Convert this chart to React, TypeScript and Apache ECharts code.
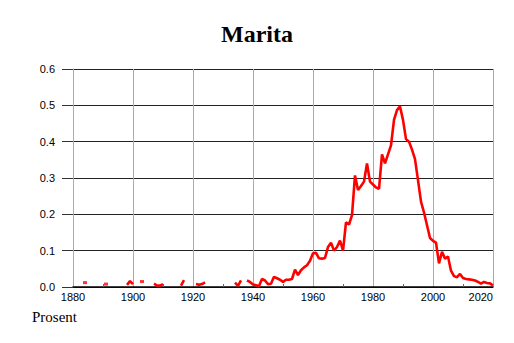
import React, { useEffect, useRef } from "react";
import * as echarts from "echarts";

const startYear = 1880;
const values: (number | null)[] = [
  // 1880-1889
  null, null, null, null, 0.012, null, null, null, null, null,
  // 1890-1899
  null, 0.008, null, null, null, null, null, null, 0.006, 0.016,
  // 1900-1909
  0.008, null, null, 0.015, null, null, null, 0.009, 0.004, 0.004,
  // 1910-1919
  0.008, null, null, null, null, null, 0.004, 0.019, null, null,
  // 1920-1929
  null, 0.008, 0.006, 0.008, 0.013, null, null, null, null, null,
  // 1930-1939
  null, null, null, null, 0.012, 0.003, 0.018, null, 0.018, 0.014,
  // 1940-1949
  0.007, 0.005, 0.003, 0.022, 0.018, 0.008, 0.009, 0.028, 0.024, 0.02,
  // 1950-1959
  0.014, 0.02, 0.02, 0.022, 0.048, 0.033, 0.046, 0.054, 0.06, 0.072,
  // 1960-1969
  0.093, 0.094, 0.079, 0.078, 0.08, 0.11, 0.122, 0.1, 0.11, 0.128,
  // 1970-1979
  0.1, 0.178, 0.172, 0.198, 0.307, 0.267, 0.278, 0.29, 0.34, 0.29,
  // 1980-1989
  0.282, 0.274, 0.27, 0.365, 0.34, 0.365, 0.39, 0.46, 0.487, 0.497,
  // 1990-1999
  0.46, 0.407, 0.4, 0.378, 0.352, 0.294, 0.235, 0.205, 0.17, 0.135,
  // 2000-2009
  0.127, 0.122, 0.065, 0.097, 0.078, 0.084, 0.045, 0.03, 0.027, 0.036,
  // 2010-2019
  0.025, 0.022, 0.021, 0.02, 0.018, 0.014, 0.009, 0.014, 0.011, 0.01,
  // 2020
  0.004,
];
const years: number[] = values.map((_, i) => startYear + i);

const xMin = 1880;
const xMax = 2020;
const xStep = 20;
const yMin = 0;
const yMax = 0.6;
const yStep = 0.1;

const titleText = "Marita";
const yUnitLabel = "Prosent";

export default function App() {
  const ref = useRef<HTMLDivElement>(null);

  useEffect(() => {
    if (!ref.current) return;
    const chart = echarts.init(ref.current, undefined, { renderer: "svg" });

    const lineData = years.map((y, i) => [y, values[i] == null ? "-" : values[i]]);
    const isolated = years
      .map((y, i) => ({ y, v: values[i], i }))
      .filter(
        (p) =>
          p.v != null &&
          (p.i === 0 || values[p.i - 1] == null) &&
          (p.i === values.length - 1 || values[p.i + 1] == null)
      )
      .map((p) => [p.y, p.v]);

    chart.setOption({
      animation: false,
      backgroundColor: "#ffffff",
      title: {
        text: titleText,
        left: "center",
        top: 17,
        textStyle: {
          fontFamily: "Liberation Serif",
          fontWeight: "bold",
          fontSize: 24,
          color: "#000",
        },
      },
      grid: { left: 73, right: 21, top: 69, bottom: 56 },
      xAxis: {
        type: "value",
        min: xMin,
        max: xMax,
        interval: xStep,
        axisLine: { show: true, lineStyle: { color: "#000", width: 1.5 } },
        axisTick: { show: false, inside: true },
        minorTick: {
          show: true,
          splitNumber: 2,
          length: 3,
          lineStyle: { color: "#666", width: 1 },
        },
        axisLabel: {
          color: "#000",
          fontFamily: "Liberation Sans",
          fontSize: 11,
          margin: 4,
          alignMaxLabel: "right",
          formatter: (v: number) => String(v),
        },
        splitLine: { show: true, lineStyle: { color: "#aaaaaa", width: 1 } },
      },
      yAxis: {
        type: "value",
        min: yMin,
        max: yMax,
        interval: yStep,
        axisLine: { show: true, lineStyle: { color: "#aaaaaa", width: 1 } },
        axisTick: {
          show: true,
          length: 11,
          lineStyle: { color: "#333", width: 1 },
        },
        axisLabel: {
          color: "#000",
          fontFamily: "Liberation Sans",
          fontSize: 11,
          margin: 18,
          formatter: (v: number) => v.toFixed(1),
        },
        splitLine: { show: true, lineStyle: { color: "#222", width: 1 } },
      },
      graphic: [
        {
          type: "text",
          left: 32,
          top: 309,
          style: {
            text: yUnitLabel,
            fontFamily: "Liberation Serif",
            fontSize: 15,
            fill: "#000",
          },
        },
      ],
      series: [
        {
          type: "line",
          data: lineData,
          showSymbol: false,
          connectNulls: false,
          lineStyle: { color: "#ff0000", width: 2.6 },
          itemStyle: { color: "#ff0000" },
          z: 5,
        },
        {
          type: "scatter",
          data: isolated,
          symbol: "rect",
          symbolSize: [4, 3],
          itemStyle: { color: "#ff0000" },
          z: 5,
        },
      ],
    });

    return () => chart.dispose();
  }, []);

  return (
    <div
      ref={ref}
      style={{ position: "fixed", left: 0, top: 0, width: 514, height: 343 }}
    />
  );
}
